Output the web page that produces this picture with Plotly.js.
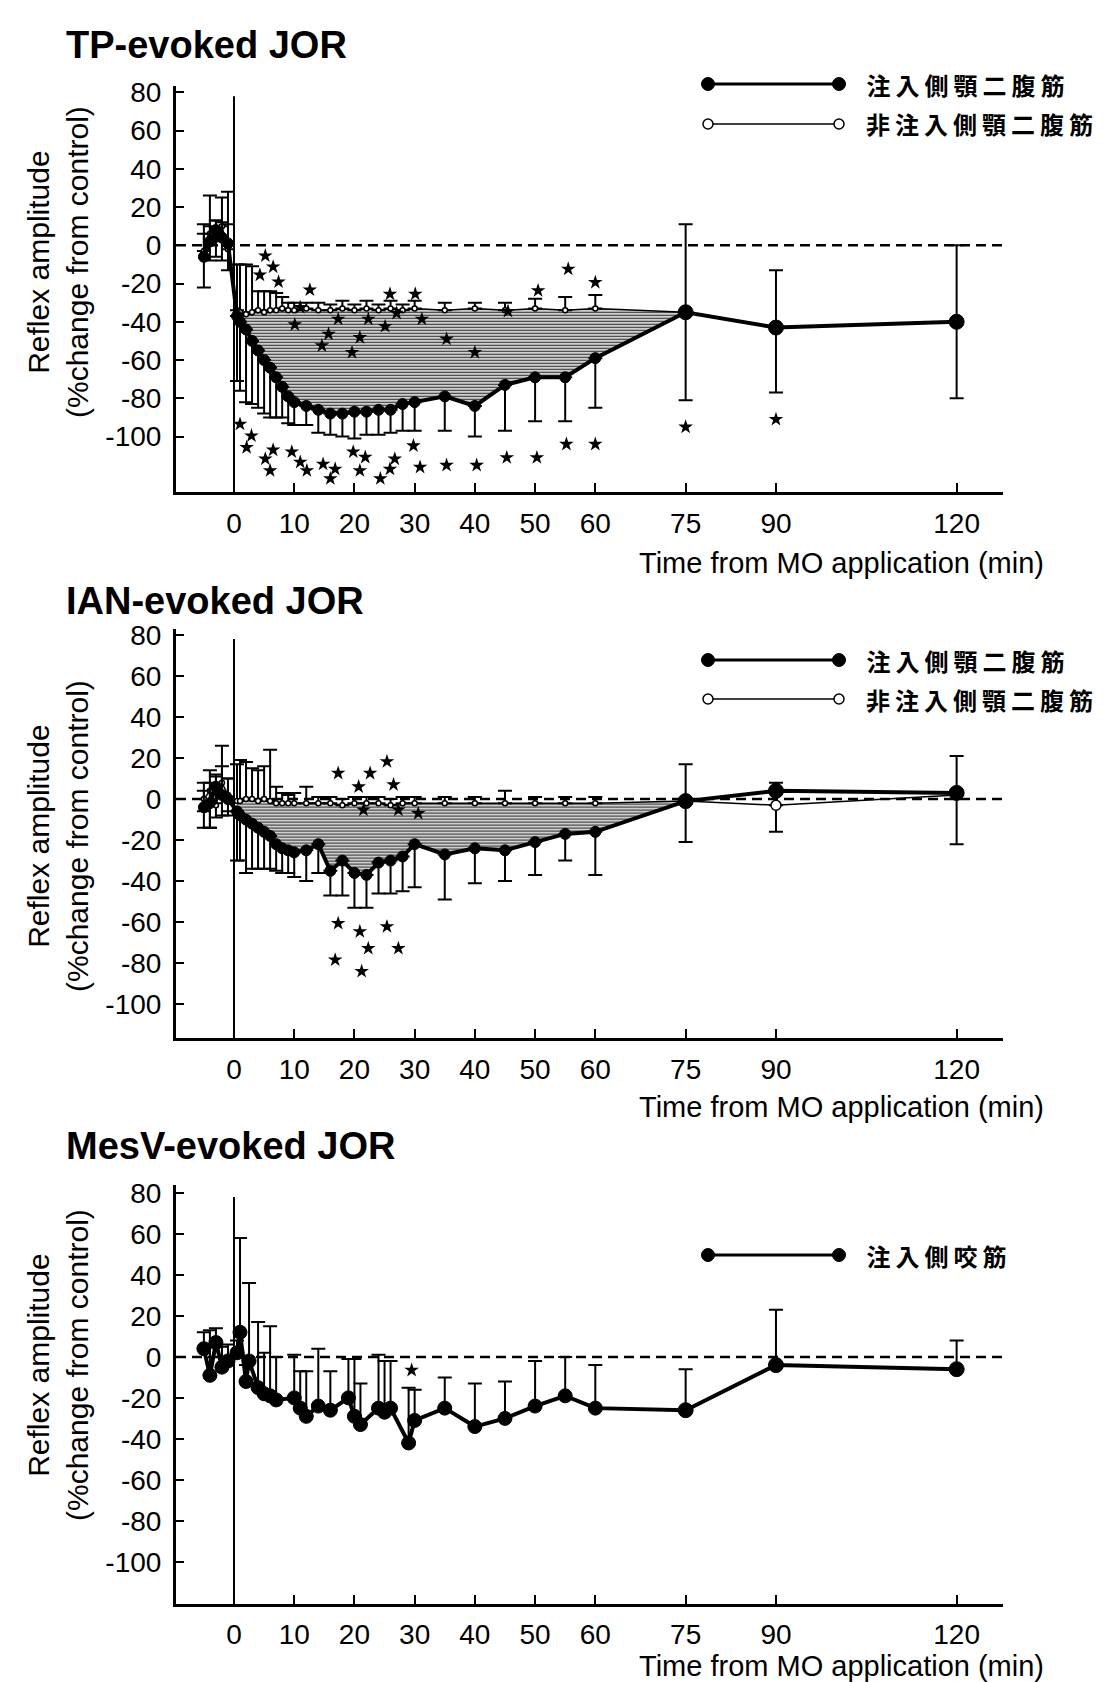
<!DOCTYPE html>
<html><head><meta charset="utf-8">
<script src="https://cdn.plot.ly/plotly-3.0.1.min.js"></script>
<style>html,body{margin:0;padding:0;background:#fff}#chart{width:1106px;height:1682px}</style>
</head><body><div id="chart"></div>
<script>
// ---------------- DATA ----------------
const timeTicks = [0, 10, 20, 30, 40, 50, 60, 75, 90, 120];
const timeTickText = ['0', '10', '20', '30', '40', '50', '60', '75', '90', '120'];
const ampTicks = [80, 60, 40, 20, 0, -20, -40, -60, -80, -100];
const ampTickText = ['80', '60', '40', '20', '0', '-20', '-40', '-60', '-80', '-100'];

const panelTitles = ['TP-evoked JOR', 'IAN-evoked JOR', 'MesV-evoked JOR'];
const xTitle = 'Time from MO application (min)';
const yTitle = 'Reflex amplitude<br>(%change from control)';
const legendInjDig = '注入側顎二腹筋';
const legendNonDig = '非注入側顎二腹筋';
const legendInjMas = '注入側咬筋';

const applicationTime = 0;
const controlLevel = 0;

// TP-evoked & IAN-evoked sampling times (min)
const timeTP = [-5, -4, -3, -2, -1, 0.5, 1, 2, 3, 4, 5, 6, 7, 8, 9, 10, 12, 14, 16, 18, 20, 22, 24, 26, 28, 30, 35, 40, 45, 50, 55, 60, 75, 90, 120];

// TP-evoked JOR
const tpInj = [-6, 2, 8, 4, 1, -37, -40, -44, -50, -55, -60, -64, -69, -74, -79, -82, -84, -86, -88, -88, -87, -87, -86, -86, -83, -82, -79, -84, -73, -69, -69, -59, -35, -43, -40];
const tpInjPlus = [12, 8, 5, 8, 10, 0, 0, 0, 0, 0, 0, 0, 0, 0, 0, 0, 0, 0, 0, 0, 0, 0, 0, 0, 0, 0, 0, 0, 0, 0, 0, 0, 46, 30, 40];
const tpInjMinus = [16, 10, 14, 12, 14, 34, 36, 38, 33, 30, 28, 26, 21, 16, 14, 12, 10, 12, 11, 12, 14, 12, 13, 12, 14, 15, 18, 16, 24, 23, 23, 26, 46, 34, 40];
const tpNon = [-3, 6, 3, 10, -2, -34, -35, -36, -35, -34, -35, -34, -34, -33, -34, -34, -33, -34, -34, -33, -34, -33, -34, -33, -34, -33, -34, -33, -34, -33, -34, -33, -35, -43, -40];
const tpNonPlus = [14, 20, 10, 15, 30, 24, 25, 26, 24, 10, 11, 10, 9, 6, 4, 4, 3, 4, 3, 4, 3, 4, 3, 4, 3, 4, 4, 3, 4, 5, 7, 7, 0, 0, 0];
const tpStarX = [5.2, 6.5, 4.3, 7.4, 12.6, 25.9, 30.1, 11, 17.3, 22.3, 27, 31.2, 10.1, 25.1, 15.7, 20.9, 14.6, 19.6, 45.5, 35.3, 40, 50.5, 55.5, 60,
  1.0, 2.9, 2.1, 6.5, 5.2, 6.0, 9.6, 11.0, 12.1, 14.8, 16.8, 16.0, 19.8, 21.8, 20.9, 24.3, 25.9, 26.7, 29.8, 30.9, 35.3, 40.3, 45.3, 50.3, 55.2, 60, 75, 90];
const tpStarY = [-5.5, -11.3, -15.5, -19.1, -23.3, -25.5, -25.5, -32.5, -38.6, -38.6, -35.5, -38.6, -41.5, -42.4, -46.4, -48.2, -52.5, -56, -34.5, -49, -56, -23.7, -12.4, -19.4,
  -93.5, -99.6, -105.7, -107, -111.7, -117.8, -108, -113.4, -117.8, -114.4, -117, -122, -108, -110.8, -117.8, -122, -117, -111.7, -104.8, -116, -115, -115, -111, -111, -104, -104, -95, -91];

// IAN-evoked JOR
const ianInj = [-4, -2, 6, 2, 0, -6, -8, -10, -12, -14, -16, -18, -22, -24, -25, -26, -25, -22, -35, -30, -36, -37, -31, -30, -28, -22, -27, -24, -25, -21, -17, -16, -1, 4, 3];
const ianInjPlus = [8, 10, 6, 24, 10, 0, 0, 0, 0, 0, 0, 0, 0, 0, 0, 0, 0, 0, 0, 0, 0, 0, 0, 0, 0, 0, 0, 0, 0, 0, 0, 0, 18, 4, 18];
const ianInjMinus = [10, 12, 8, 10, 8, 24, 22, 26, 22, 20, 18, 16, 13, 12, 11, 12, 15, 14, 12, 17, 17, 16, 15, 16, 17, 21, 22, 17, 15, 16, 13, 21, 20, 0, 25];
const ianNon = [0, 4, -3, 8, 2, -1, -1, 0, 0, -1, 0, -1, -2, -2, -2, -2, -2, -2, -2, -3, -2, -2, -2, -3, -2, -2, -2, -2, -2, -2, -2, -2, -1, -3, 2];
const ianNonPlus = [8, 10, 14, 8, 8, 18, 20, 18, 15, 15, 16, 25, 8, 5, 4, 5, 8, 3, 3, 3, 3, 3, 3, 3, 3, 3, 3, 3, 6, 3, 3, 3, 0, 0, 0];
const ianNonMinus = [6, 18, 6, 6, 8, 0, 0, 0, 0, 0, 0, 0, 0, 0, 0, 0, 0, 0, 0, 0, 0, 0, 0, 0, 0, 0, 0, 0, 0, 0, 0, 0, 0, 13, 0];
const ianStarX = [17.3, 22.6, 25.4, 20.7, 26.5, 21.5, 27.3, 30.6, 17.3, 20.9, 25.4, 22.3, 27.3, 16.8, 21.2];
const ianStarY = [12.6, 12.6, 18.3, 6, 7, -5.3, -5.3, -7, -60.6, -64.6, -62.2, -72.8, -72.8, -78.4, -84];

// MesV-evoked JOR
const timeMes = [-5, -4, -3, -2, -1, 0.5, 1, 2, 2.5, 4, 5, 6, 7, 10, 11, 12, 14, 16, 19, 20, 21, 24, 25, 26, 29, 30, 35, 40, 45, 50, 55, 60, 75, 90, 120];
const mesInj = [4, -9, 7, -5, -2, 2, 12, -12, -2, -15, -18, -19, -21, -20, -25, -29, -24, -26, -20, -29, -33, -25, -27, -25, -42, -31, -25, -34, -30, -24, -19, -25, -26, -4, -6];
const mesInjPlus = [8, 22, 7, 10, 8, 6, 46, 8, 38, 32, 20, 34, 21, 21, 18, 22, 28, 19, 19, 28, 20, 26, 25, 23, 27, 15, 15, 21, 18, 22, 19, 21, 20, 27, 14];
const mesStarX = [29.5];
const mesStarY = [-6.5];

// ---------------- LAYOUT HELPERS ----------------
const W = 1106, H = 1682;
const PX = px => px / W;
const PY = py => 1 - py / H;
const FONT = '"Liberation Sans", Arial, sans-serif';
const CJK = '"Noto Sans CJK JP", "Noto Sans CJK SC", sans-serif';
const zeros = n => new Array(n).fill(0);
const LETTER_SPACING = 5;

const panels = [
  {ax: '', top: 85.8, bottom: 492.4, yr: [-129.2, 83.4], titleY: 45, xTitleY: 563, yTitleY: 262, legendY: [84, 124]},
  {ax: '2', top: 628.6, bottom: 1038.4, yr: [-116.7, 83.1], titleY: 601, xTitleY: 1107, yTitleY: 836, legendY: [660, 699]},
  {ax: '3', top: 1185.3, bottom: 1603.7, yr: [-120.4, 83.7], titleY: 1146, xTitleY: 1666, yTitleY: 1365, legendY: [1255]}
];
const xLeft = 176, xRight = 1003, xRange = [-9.63, 127.7];

const traces = [];
function addFill(ax, x, upper, lower) {
  const idx = x.map((t, i) => i).filter(i => x[i] > applicationTime && x[i] <= 75);
  const base = {type: 'scatter', mode: 'lines', xaxis: 'x' + ax, yaxis: 'y' + ax, hoverinfo: 'skip',
    line: {width: 0, color: 'rgba(0,0,0,0)'}, showlegend: false};
  traces.push(Object.assign({}, base, {x: idx.map(i => x[i]), y: idx.map(i => upper[i])}));
  traces.push(Object.assign({}, base, {x: idx.map(i => x[i]), y: idx.map(i => lower[i]),
    fill: 'tonexty', fillcolor: 'rgba(255,255,255,0)',
    fillpattern: {shape: '-', fgcolor: '#333', bgcolor: 'rgba(255,255,255,0)', size: 3, solidity: 0.5}}));
}
function addSeries(ax, x, y, plus, minus, filled, name, smallSize) {
  traces.push({type: 'scatter', mode: 'lines+markers', x: x, y: y, name: name,
    xaxis: 'x' + ax, yaxis: 'y' + ax, showlegend: false,
    line: {color: '#000', width: filled ? 4 : 1.5},
    marker: filled ? {color: '#000', opacity: 1, size: x.map(t => t >= 75 ? 15 : smallSize), line: {color: '#000', width: 1}}
                   : {color: '#fff', opacity: 1, size: x.map(t => t >= 75 ? 10 : 5), line: {color: '#000', width: 1.5}},
    error_y: {type: 'data', symmetric: false, array: plus, arrayminus: minus, color: '#000', thickness: 2, width: 7}
  });
}
function addStars(ax, x, y) {
  traces.push({type: 'scatter', mode: 'markers', x: x, y: y, xaxis: 'x' + ax, yaxis: 'y' + ax,
    showlegend: false, hoverinfo: 'skip', marker: {symbol: 'star', size: 11, color: '#000'}});
}

// Panel 1
addFill('', timeTP, tpNon, tpInj);
addSeries('', timeTP, tpNon, tpNonPlus, zeros(timeTP.length), false, legendNonDig, 5);
addSeries('', timeTP, tpInj, tpInjPlus, tpInjMinus, true, legendInjDig, 11);
addStars('', tpStarX, tpStarY);
// Panel 2
addFill('2', timeTP, ianNon, ianInj);
addSeries('2', timeTP, ianNon, ianNonPlus, ianNonMinus, false, legendNonDig, 5);
addSeries('2', timeTP, ianInj, ianInjPlus, ianInjMinus, true, legendInjDig, 11);
addStars('2', ianStarX, ianStarY);
// Panel 3
addSeries('3', timeMes, mesInj, mesInjPlus, zeros(timeMes.length), true, legendInjMas, 14);
addStars('3', mesStarX, mesStarY);

const layout = {
  width: W, height: H, margin: {l: 0, r: 0, t: 0, b: 0, pad: 0},
  paper_bgcolor: '#fff', plot_bgcolor: 'rgba(0,0,0,0)', showlegend: false,
  font: {family: FONT, color: '#000'},
  shapes: [], annotations: []
};

panels.forEach((p, k) => {
  const xa = 'xaxis' + p.ax, ya = 'yaxis' + p.ax;
  layout[xa] = {domain: [PX(xLeft), PX(xRight)], range: xRange, anchor: 'y' + p.ax,
    showline: true, linewidth: 3, linecolor: '#000', ticks: 'inside', ticklen: 9, tickwidth: 2, tickcolor: '#000',
    tickmode: 'array', tickvals: timeTicks, ticktext: timeTickText, tickfont: {family: FONT, size: 28, color: '#000'},
    showgrid: false, zeroline: false, fixedrange: true, ticklabelstandoff: 4};
  layout[ya] = {domain: [PY(p.bottom), PY(p.top)], range: p.yr, anchor: 'x' + p.ax,
    showline: true, linewidth: 3, linecolor: '#000', ticks: 'inside', ticklen: 8, tickwidth: 2, tickcolor: '#000',
    tickmode: 'array', tickvals: ampTicks, ticktext: ampTickText, tickfont: {family: FONT, size: 28, color: '#000'},
    showgrid: false, zeroline: false, fixedrange: true, ticklabelstandoff: 6};

  layout.shapes.push({type: 'line', layer: 'below', xref: 'x' + p.ax + ' domain', yref: 'y' + p.ax,
    x0: 0, x1: 1, y0: controlLevel, y1: controlLevel, line: {color: '#000', width: 2.5, dash: '10px,6px'}});
  layout.shapes.push({type: 'line', layer: 'below', xref: 'x' + p.ax, yref: 'y' + p.ax,
    x0: applicationTime, x1: applicationTime, y0: p.yr[0], y1: 78, line: {color: '#000', width: 2}});

  layout.annotations.push({xref: 'paper', yref: 'paper', x: PX(64), y: PY(p.titleY), xanchor: 'left', yanchor: 'middle',
    showarrow: false, text: '<b>' + panelTitles[k] + '</b>', font: {family: FONT, size: 38, color: '#000'}});
  layout.annotations.push({xref: 'paper', yref: 'paper', x: PX(1046), y: PY(p.xTitleY), xanchor: 'right', yanchor: 'middle',
    showarrow: false, text: xTitle, font: {family: FONT, size: 29, color: '#000'}});
  layout.annotations.push({xref: 'paper', yref: 'paper', x: PX(58), y: PY(p.yTitleY), xanchor: 'center', yanchor: 'middle',
    showarrow: false, textangle: -90, text: yTitle, font: {family: FONT, size: 30, color: '#000'}});

  const labels = k < 2 ? [legendInjDig, legendNonDig] : [legendInjMas];
  p.legendY.forEach((ly, j) => {
    const filled = j === 0;
    layout.shapes.push({type: 'line', xref: 'paper', yref: 'paper', x0: PX(708), x1: PX(839), y0: PY(ly), y1: PY(ly),
      line: {color: '#000', width: filled ? 3 : 1.5}});
    [708, 839].forEach(cx => {
      const r = filled ? 6.5 : 5;
      layout.shapes.push({type: 'circle', xref: 'paper', yref: 'paper',
        x0: PX(cx - r), x1: PX(cx + r), y0: PY(ly + r), y1: PY(ly - r),
        fillcolor: filled ? '#000' : '#fff', line: {color: '#000', width: filled ? 1 : 1.5}});
    });
    const shift = labels[j].length * LETTER_SPACING / 2;
    layout.annotations.push({xref: 'paper', yref: 'paper', x: PX(864 + shift), y: PY(ly), xanchor: 'left', yanchor: 'middle',
      showarrow: false, text: '<b>' + labels[j] + '</b>', font: {family: CJK, size: 24, color: '#000'}});
  });
});

Plotly.newPlot('chart', traces, layout, {staticPlot: true, displayModeBar: false}).then(() => {
  document.querySelectorAll('.annotation-text').forEach(t => {
    if (/[\u3000-\u9fff]/.test(t.textContent)) t.style.letterSpacing = LETTER_SPACING + 'px';
  });
});
</script>
</body></html>
